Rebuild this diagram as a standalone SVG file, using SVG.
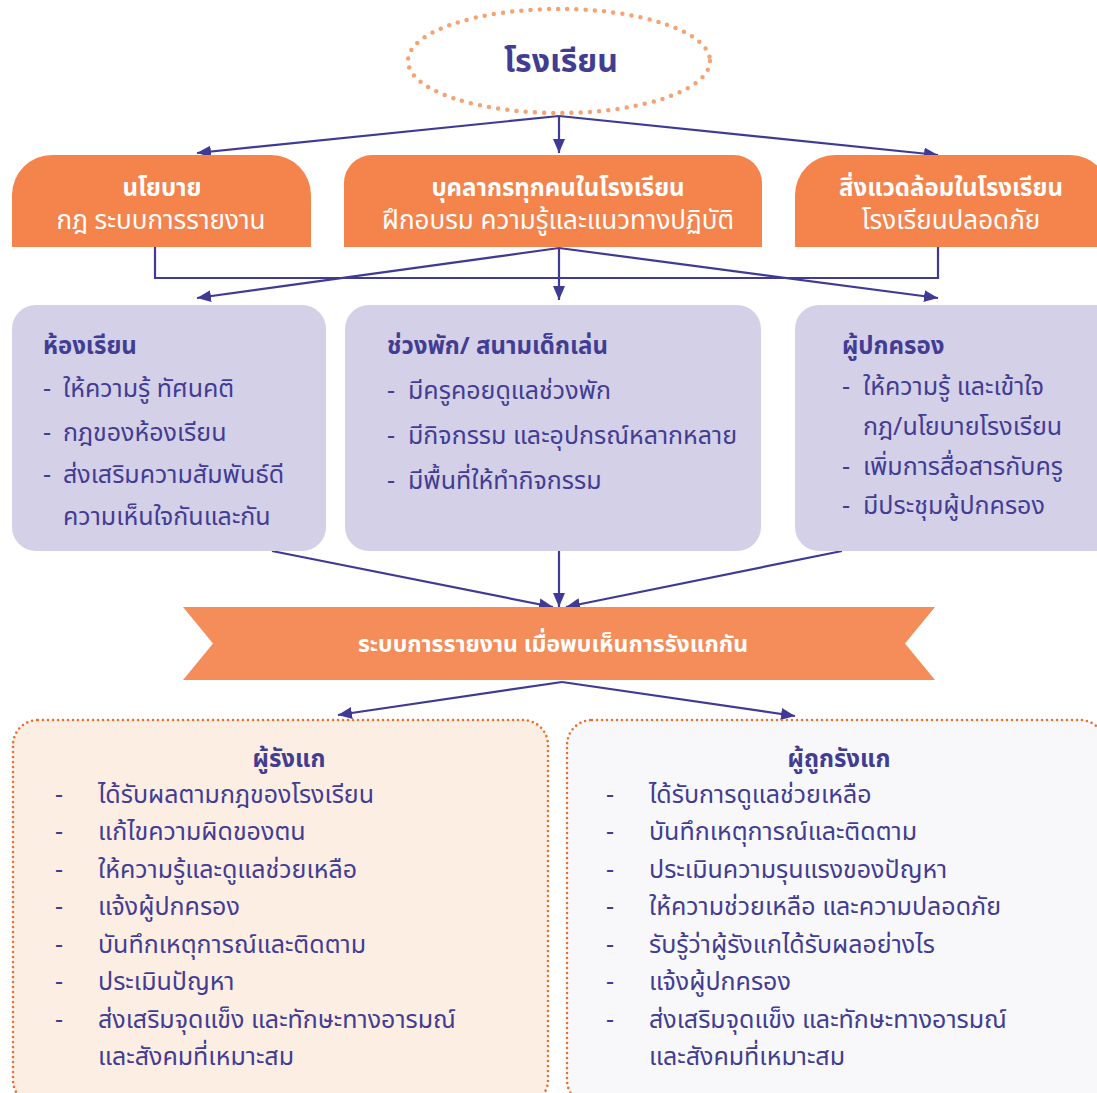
<svg xmlns="http://www.w3.org/2000/svg" width="1097" height="1093" viewBox="0 0 1097 1093">
<defs>
<marker id="ah" viewBox="0 0 14 12" refX="14" refY="6" markerWidth="14" markerHeight="12" markerUnits="userSpaceOnUse" orient="auto">
<path d="M0,0 L14,6 L0,12 z" fill="#3f3a95"/>
</marker>
<style>
text{font-family:"Noto Sans Thai","Noto Sans Thai UI","Loma","Garuda","Tahoma","Noto Sans",sans-serif;}
.p{fill:#423d93;font-size:25px;}
.t{font-size:24px;}
.b{font-weight:bold;}
.w{fill:#ffffff;font-size:24px;}
.s{font-size:26px;}
.c{text-anchor:middle;}
.line{fill:none;stroke:#3f3a95;stroke-width:2.2;}
.org{fill:#f4834c;}
.lav{fill:#d4d0e8;}
.dot{fill:none;stroke:#f26d2c;stroke-width:2.6;stroke-dasharray:0 5;stroke-linecap:round;}
</style>
</defs>
<rect width="1097" height="1093" fill="#ffffff"/>

<g id="connectors">
<line class="line" x1="559" y1="116" x2="197" y2="153" marker-end="url(#ah)"/>
<line class="line" x1="559" y1="116" x2="559" y2="153" marker-end="url(#ah)"/>
<line class="line" x1="559" y1="116" x2="938" y2="155" marker-end="url(#ah)"/>
<polyline class="line" points="155,247 155,278 938,278 938,247"/>
<line class="line" x1="559" y1="248" x2="197" y2="298" marker-end="url(#ah)"/>
<line class="line" x1="559" y1="248" x2="559" y2="300" marker-end="url(#ah)"/>
<line class="line" x1="559" y1="248" x2="938" y2="298" marker-end="url(#ah)"/>
<line class="line" x1="272" y1="551" x2="553" y2="607" marker-end="url(#ah)"/>
<line class="line" x1="559" y1="551" x2="559" y2="607" marker-end="url(#ah)"/>
<line class="line" x1="842" y1="551" x2="566" y2="607" marker-end="url(#ah)"/>
<line class="line" x1="562" y1="682" x2="338" y2="715" marker-end="url(#ah)"/>
<line class="line" x1="562" y1="682" x2="795" y2="716" marker-end="url(#ah)"/>
</g>

<g id="school">
<ellipse cx="559" cy="61" rx="151" ry="52" fill="none" stroke="#f5a274" stroke-width="4.5" stroke-dasharray="0 9.2" stroke-linecap="round"/>
<text class="p b c" x="561" y="72" style="font-size:32px">โรงเรียน</text>
</g>

<g id="policy">
<path class="org" d="M12,247 V195 A40,40 0 0 1 52,155 H271 A40,40 0 0 1 311,195 V247 z"/>
<text class="w b c" x="162" y="196">นโยบาย</text>
<text class="w s c" x="161" y="229">กฎ ระบบการรายงาน</text>
</g>

<g id="staff">
<path class="org" d="M344,247 V183 A28,28 0 0 1 372,155 H734 A28,28 0 0 1 762,183 V247 z"/>
<text class="w b c" x="558" y="196">บุคลากรทุกคนในโรงเรียน</text>
<text class="w s c" x="558" y="229">ฝึกอบรม ความรู้และแนวทางปฏิบัติ</text>
</g>

<g id="environment">
<path class="org" d="M795,247 V195 A40,40 0 0 1 835,155 H1070 A40,40 0 0 1 1110,195 V247 z"/>
<text class="w b c" x="951" y="196">สิ่งแวดล้อมในโรงเรียน</text>
<text class="w s c" x="951" y="229">โรงเรียนปลอดภัย</text>
</g>

<g id="classroom">
<rect class="lav" x="12" y="305" width="314" height="246" rx="24"/>
<text class="p t b" x="43" y="354">ห้องเรียน</text>
<text class="p" x="43" y="397">-<tspan x="63">ให้ความรู้ ทัศนคติ</tspan></text>
<text class="p" x="43" y="441">-<tspan x="63">กฎของห้องเรียน</tspan></text>
<text class="p" x="43" y="483">-<tspan x="63">ส่งเสริมความสัมพันธ์ดี</tspan></text>
<text class="p" x="63" y="525">ความเห็นใจกันและกัน</text>
</g>

<g id="playground">
<rect class="lav" x="345" y="305" width="416" height="246" rx="24"/>
<text class="p t b" x="387" y="354">ช่วงพัก/ สนามเด็กเล่น</text>
<text class="p" x="387" y="399">-<tspan x="408">มีครูคอยดูแลช่วงพัก</tspan></text>
<text class="p" x="387" y="444">-<tspan x="408">มีกิจกรรม และอุปกรณ์หลากหลาย</tspan></text>
<text class="p" x="387" y="489">-<tspan x="408">มีพื้นที่ให้ทำกิจกรรม</tspan></text>
</g>

<g id="parents">
<rect class="lav" x="795" y="305" width="330" height="246" rx="24"/>
<text class="p t b" x="842" y="354">ผู้ปกครอง</text>
<text class="p" x="842" y="395">-<tspan x="863">ให้ความรู้ และเข้าใจ</tspan></text>
<text class="p" x="863" y="435">กฎ/นโยบายโรงเรียน</text>
<text class="p" x="842" y="475">-<tspan x="863">เพิ่มการสื่อสารกับครู</tspan></text>
<text class="p" x="842" y="514">-<tspan x="863">มีประชุมผู้ปกครอง</tspan></text>
</g>

<g id="reporting">
<polygon points="183,607 935,607 905,643.5 935,680 183,680 213,643.5" fill="#f58d5b"/>
<text class="w b c" x="553" y="652" style="font-size:23px">ระบบการรายงาน เมื่อพบเห็นการรังแกกัน</text>
</g>

<g id="bully">
<rect class="dot" x="13" y="720" width="535" height="385" rx="25" style="fill:#fdeee4"/>
<text class="p t b c" x="289" y="767">ผู้รังแก</text>
<text class="p" x="55" y="803">-<tspan x="98">ได้รับผลตามกฎของโรงเรียน</tspan></text>
<text class="p" x="55" y="840">-<tspan x="98">แก้ไขความผิดของตน</tspan></text>
<text class="p" x="55" y="878">-<tspan x="98">ให้ความรู้และดูแลช่วยเหลือ</tspan></text>
<text class="p" x="55" y="915">-<tspan x="98">แจ้งผู้ปกครอง</tspan></text>
<text class="p" x="55" y="953">-<tspan x="98">บันทึกเหตุการณ์และติดตาม</tspan></text>
<text class="p" x="55" y="990">-<tspan x="98">ประเมินปัญหา</tspan></text>
<text class="p" x="55" y="1028">-<tspan x="98">ส่งเสริมจุดแข็ง และทักษะทางอารมณ์</tspan></text>
<text class="p" x="98" y="1065">และสังคมที่เหมาะสม</text>
</g>

<g id="victim">
<rect class="dot" x="567" y="720" width="538" height="385" rx="25" style="fill:#f8f8fb"/>
<text class="p t b c" x="839" y="767">ผู้ถูกรังแก</text>
<text class="p" x="606" y="803">-<tspan x="649">ได้รับการดูแลช่วยเหลือ</tspan></text>
<text class="p" x="606" y="840">-<tspan x="649">บันทึกเหตุการณ์และติดตาม</tspan></text>
<text class="p" x="606" y="878">-<tspan x="649">ประเมินความรุนแรงของปัญหา</tspan></text>
<text class="p" x="606" y="915">-<tspan x="649">ให้ความช่วยเหลือ และความปลอดภัย</tspan></text>
<text class="p" x="606" y="953">-<tspan x="649">รับรู้ว่าผู้รังแกได้รับผลอย่างไร</tspan></text>
<text class="p" x="606" y="990">-<tspan x="649">แจ้งผู้ปกครอง</tspan></text>
<text class="p" x="606" y="1028">-<tspan x="649">ส่งเสริมจุดแข็ง และทักษะทางอารมณ์</tspan></text>
<text class="p" x="649" y="1065">และสังคมที่เหมาะสม</text>
</g>
</svg>
